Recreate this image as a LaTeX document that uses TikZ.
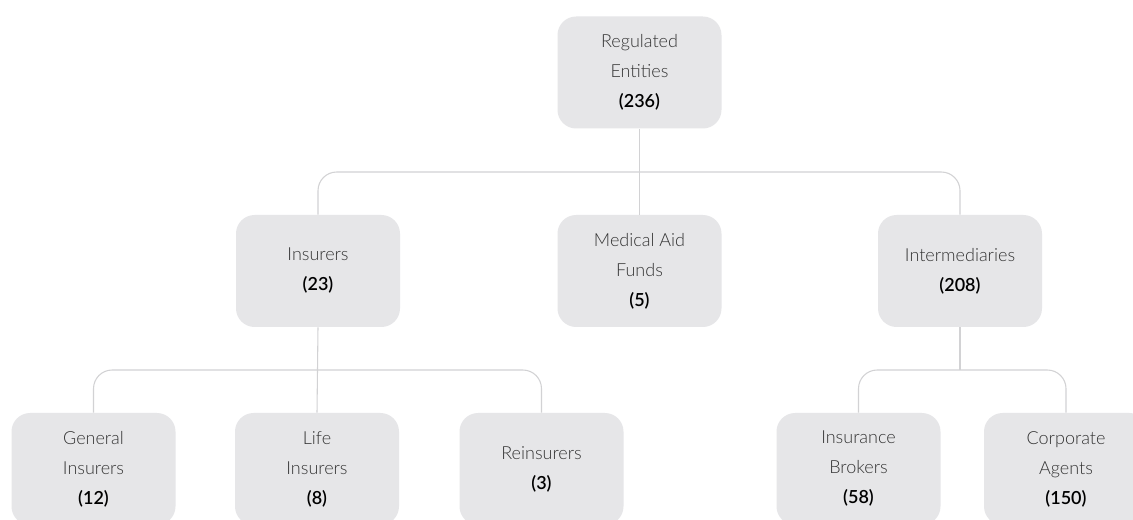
\documentclass[tikz,border=0pt]{standalone}
\usepackage{fontspec}
\setmainfont{Lato}[UprightFont={* Light}, BoldFont={* Semibold}]
\definecolor{boxgray}{HTML}{E6E6E8}
\definecolor{linegray}{HTML}{D2D2D4}
\definecolor{textgray}{HTML}{333333}
\newcommand{\num}[1]{{\color{black}\bfseries #1}}
\tikzset{
  entity/.style={fill=boxgray, rounded corners=14pt, minimum width=123pt, minimum height=84pt,
    align=center, text=textgray, font=\fontsize{13.5}{22.5}\selectfont, inner sep=0pt},
  link/.style={draw=linegray, line width=0.8pt, rounded corners=14pt}
}
\begin{document}
\begin{tikzpicture}[x=0.75pt, y=-0.75pt]

            \clip (0,0) rectangle (1133,520);
            \fill[white] (0,0) rectangle (1133,520);

            \node[entity] (top) at (639.5,72.5) {Regulated\\Entities\\\num{(236)}};

            \node[entity] (ins) at (318,271) {Insurers\\\num{(23)}};
            \node[entity] (med) at (639.5,271) {Medical Aid\\Funds\\\num{(5)}};
            \node[entity] (int) at (960,271) {Intermediaries\\\num{(208)}};

            \node[entity] (gen) at (93.5,469) {General\\Insurers\\\num{(12)}};
            \node[entity] (lif) at (317,469) {Life\\Insurers\\\num{(8)}};
            \node[entity] (rei) at (541.5,469) {Reinsurers\\\num{(3)}};
            \node[entity] (bro) at (858.5,469) {Insurance\\Brokers\\\num{(58)}};
            \node[entity] (cor) at (1066,469) {Corporate\\Agents\\\num{(150)}};

            \coordinate (jtop) at (top.south |- 0,172);
            \coordinate (jins) at (ins.south |- 0,370);
            \coordinate (jint) at (int.south |- 0,370);

            \draw[link] (top.south) -- (med.north);
            \draw[link] (ins.north) |- (jtop) -| (int.north);

            \draw[link] (ins.south) -- (lif.north);
            \draw[link] (gen.north) |- (jins) -| (rei.north);

            \draw[link] (int.south) -- (jint);
            \draw[link] (bro.north) |- (jint) -| (cor.north);
        \end{tikzpicture}
\end{document}
